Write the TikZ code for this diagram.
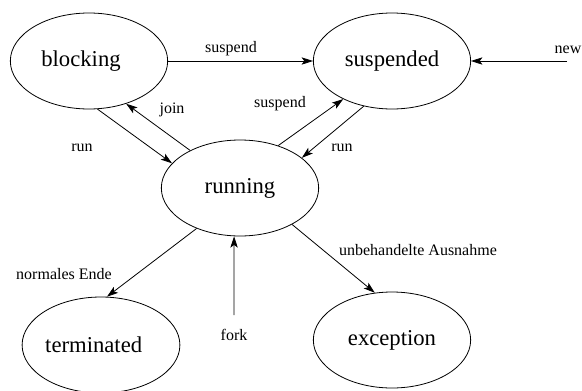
\documentclass[tikz,border=0pt]{standalone}
\usepackage{fontspec}
\setmainfont{Liberation Serif}
\usetikzlibrary{shapes.geometric,arrows.meta}

\tikzset{
  state/.style={draw, ellipse, line width=0.6pt, inner sep=0pt,
    minimum width=118pt, minimum height=72pt, font=\fontsize{17}{19}\selectfont},
  trans/.style={line width=0.6pt, -{Stealth[length=8.5pt,width=5.5pt,inset=2pt]}},
  lbl/.style={font=\fontsize{12}{14}\selectfont, inner sep=0pt}
}

\begin{document}
\begin{tikzpicture}[x=0.75pt,y=-0.75pt]
  \useasboundingbox (0,0) rectangle (582,390);

  % states (a trailing kern sets the text slightly left of centre)
  \node[state] (blocking)   at (89,61)   {blocking\kern12pt};
  \node[state] (suspended)  at (392,61)  {suspended};
  \node[state] (running)    at (240,188) {running};
  \node[state] (terminated) at (101,345) {terminated\kern11pt};
  \node[state] (exception)  at (392,340) {exception};

  % free ends of the entry transitions
  \coordinate (newsrc)  at (567,61);
  \coordinate (forksrc) at (234,315);

  % transitions
  \draw[trans] (blocking.east) -- (suspended.west);
  \draw[trans] (newsrc) -- (suspended.east);
  \draw[trans] (blocking.-80) -- (running.160);
  \draw[trans] (running.143) -- (blocking.-49);
  \draw[trans] (running.48) -- (suspended.-142);
  \draw[trans] (suspended.-122) -- (running.26);
  \draw[trans] (running.-137) -- (terminated.83);
  \draw[trans] (running.-35) -- (exception.110);
  \draw[trans] (forksrc) -- (running.-97);

  % labels
  \node[lbl] (l1) at (231,49)  {suspend};
  \node[lbl] (l2) at (568,50)  {new};
  \node[lbl] (l3) at (82,148)  {run};
  \node[lbl] (l4) at (172,110) {join};
  \node[lbl] (l5) at (280,104) {suspend};
  \node[lbl] (l6) at (342,148) {run};
  \node[lbl] (l7) at (64,274)  {normales Ende};
  \node[lbl] (l8) at (418,250) {unbehandelte Ausnahme};
  \node[lbl] (l9) at (234,335) {fork};
\end{tikzpicture}
\end{document}
